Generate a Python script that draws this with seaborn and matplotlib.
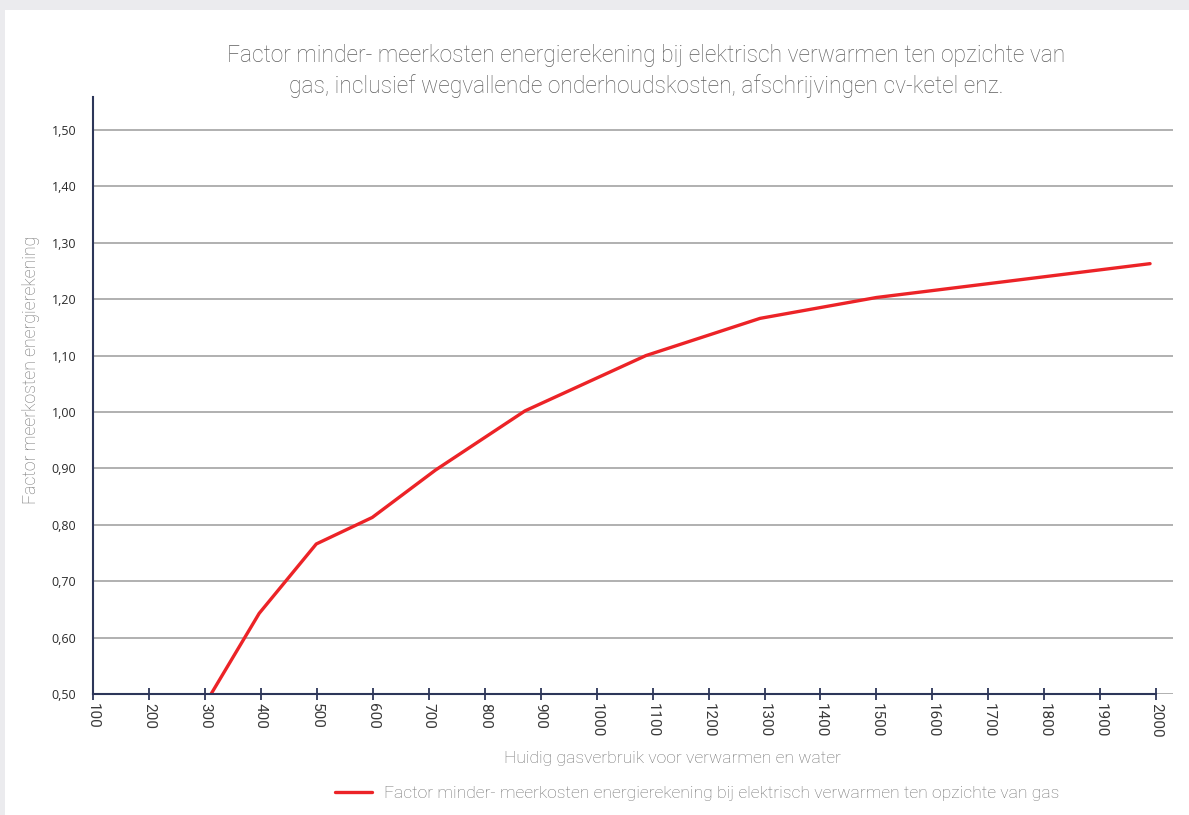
import matplotlib
matplotlib.use("Agg")
import matplotlib.pyplot as plt
from matplotlib.patches import Rectangle
import seaborn as sns
import pandas as pd

# Gas usage (m3/year) and the cost factor of electric heating relative to gas
gas_usage = [311, 397, 499, 599, 712, 872, 1088, 1292, 1500, 1989]
cost_factor = [0.50, 0.643, 0.766, 0.813, 0.897, 1.002, 1.100, 1.166, 1.203, 1.263]

x_ticks = list(range(100, 2001, 100))
y_ticks = [0.50, 0.60, 0.70, 0.80, 0.90, 1.00, 1.10, 1.20, 1.30, 1.40, 1.50]
y_tick_labels = [f"{v:.2f}".replace(".", ",") for v in y_ticks]

title_text = ("Factor minder- meerkosten energierekening bij elektrisch verwarmen ten opzichte van\n"
              "gas, inclusief wegvallende onderhoudskosten, afschrijvingen cv-ketel enz.")
series_name = "Factor minder- meerkosten energierekening bij elektrisch verwarmen ten opzichte van gas"
x_label = "Huidig gasverbruik voor verwarmen en water"
y_label = "Factor meerkosten energierekening"

df = pd.DataFrame({"gas": gas_usage, "factor": cost_factor})

sns.set_theme(style="white")
plt.rcParams["font.family"] = ["Roboto", "DejaVu Sans"]

NAVY = "#2d3659"
GRID = "#a3a3a3"
RED = "#ec2327"
TITLE_GREY = "#5e5e5e"
LABEL_GREY = "#717171"

fig = plt.figure(figsize=(11.89, 8.15), dpi=100)
fig.patch.set_facecolor("#ebebee")
# white card on the light grey page
fig.add_artist(Rectangle((5 / 1189, 0), 1 - 5 / 1189, 1 - 10 / 815,
                         transform=fig.transFigure, facecolor="white",
                         edgecolor="none", zorder=0))

ax = fig.add_axes([93 / 1189, 121 / 815, (1173 - 93) / 1189, (694 - 97) / 815])
ax.set_facecolor("none")

sns.lineplot(data=df, x="gas", y="factor", ax=ax, color=RED, linewidth=2.4,
             label=series_name, zorder=3)

ax.set_xlim(100, 2030)
ax.set_ylim(0.50, 1.5585)

ax.set_yticks(y_ticks)
ax.set_yticklabels(y_tick_labels, fontfamily="Open Sans", fontsize=9, color="#2b2b2b")
ax.set_xticks(x_ticks)
ax.set_xticklabels([str(t) for t in x_ticks], rotation=-90, fontfamily="Roboto",
                   fontsize=11, color="#3a3a3a")

ax.tick_params(axis="y", left=False, length=0, pad=12)
ax.tick_params(axis="x", bottom=True, direction="inout", length=9, width=1.3,
               color=NAVY, pad=2)

ax.yaxis.grid(True, color=GRID, linewidth=1.2)
ax.xaxis.grid(False)
ax.set_axisbelow(True)

for side in ("top", "right"):
    ax.spines[side].set_visible(False)
for side in ("left", "bottom"):
    ax.spines[side].set_color(NAVY)
    ax.spines[side].set_linewidth(1.5)
    ax.spines[side].set_zorder(4)
ax.spines["bottom"].set_bounds(100, 2000)

ax.set_xlabel("")
ax.set_ylabel("")

fig.text(646 / 1189, 1 - 71 / 815, title_text, ha="center", va="center",
         fontsize=16.4, fontweight="light", color=TITLE_GREY, linespacing=1.4)
fig.text(31 / 1189, 1 - 370 / 815, y_label, rotation=90, ha="center", va="center",
         fontsize=12.7, fontweight="light", color=LABEL_GREY)
fig.text(672 / 1189, 1 - 758 / 815, x_label, ha="center", va="center",
         fontsize=12.6, fontweight="light", color=LABEL_GREY)

leg = ax.legend(loc="center", bbox_to_anchor=(697 / 1189, 22 / 815),
                bbox_transform=fig.transFigure, frameon=False,
                prop={"family": "Roboto", "weight": "light", "size": 12.6},
                handlelength=2.1, handletextpad=0.7)
for txt in leg.get_texts():
    txt.set_color(LABEL_GREY)

fig.savefig("out.png", dpi=100, facecolor=fig.get_facecolor())
